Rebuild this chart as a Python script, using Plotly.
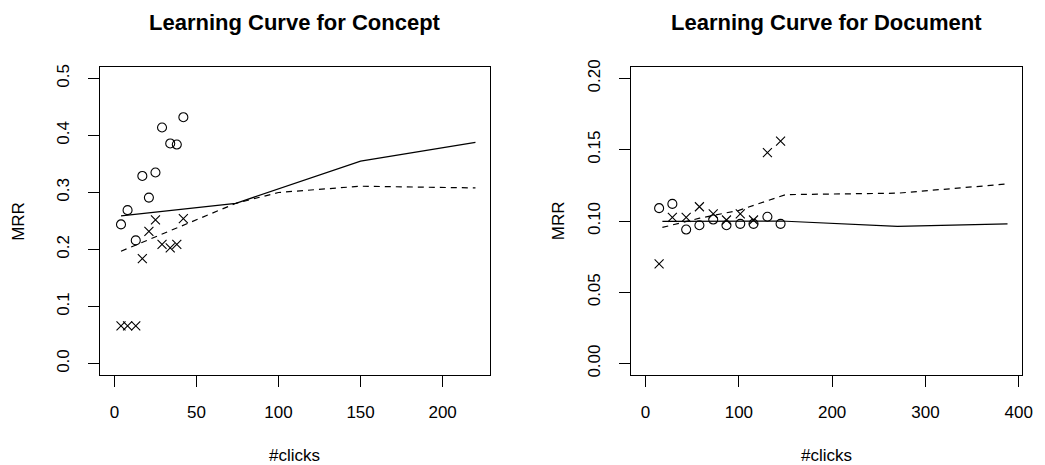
import plotly.graph_objects as go

# ---- data: Concept ----
concept_x = [4, 8, 13, 17, 21, 25, 29, 34, 38, 42]
concept_circle = [0.244, 0.269, 0.216, 0.329, 0.291, 0.335, 0.414, 0.386, 0.384, 0.432]
concept_cross = [0.066, 0.066, 0.066, 0.184, 0.232, 0.252, 0.209, 0.203, 0.209, 0.254]
concept_solid_x = [4, 74, 150, 220]
concept_solid_y = [0.259, 0.281, 0.355, 0.388]
concept_dash_x = [4, 74, 100, 150, 220]
concept_dash_y = [0.197, 0.281, 0.300, 0.311, 0.308]

# ---- data: Document ----
doc_x = [14.5, 28.7, 43.5, 57.7, 72.5, 86.7, 101.5, 115.7, 130.6, 144.7]
doc_circle = [0.109, 0.112, 0.094, 0.097, 0.101, 0.097, 0.098, 0.098, 0.103, 0.098]
doc_cross = [0.070, 0.1026, 0.1026, 0.110, 0.105, 0.1007, 0.105, 0.1007, 0.148, 0.156]
doc_solid_x = [18, 145, 270, 388]
doc_solid_y = [0.0998, 0.1000, 0.0963, 0.098]
doc_dash_x = [18, 58, 100, 150, 270, 388]
doc_dash_y = [0.0955, 0.102, 0.1075, 0.1185, 0.1195, 0.126]

concept_xticks = [0, 50, 100, 150, 200]
concept_yticks = [0.0, 0.1, 0.2, 0.3, 0.4, 0.5]
doc_xticks = [0, 100, 200, 300, 400]
doc_yticks = [0.00, 0.05, 0.10, 0.15, 0.20]

titles = ["Learning Curve for Concept", "Learning Curve for Document"]
xlabel = "#clicks"
ylabel = "MRR"

FONT = "Liberation Sans, Arial, Helvetica, sans-serif"
BLACK = "#000000"

fig = go.Figure()

def add_panel(xa, ya, x, yc, yx, sx, sy, dxs, dys):
    fig.add_trace(go.Scatter(x=sx, y=sy, mode="lines", xaxis=xa, yaxis=ya,
                             line=dict(color=BLACK, width=1.2), showlegend=False))
    fig.add_trace(go.Scatter(x=dxs, y=dys, mode="lines", xaxis=xa, yaxis=ya,
                             line=dict(color=BLACK, width=1.2, dash="6px,5px"), showlegend=False))
    fig.add_trace(go.Scatter(x=x, y=yc, mode="markers", xaxis=xa, yaxis=ya,
                             marker=dict(symbol="circle-open", size=9, color=BLACK,
                                         line=dict(width=1.1, color=BLACK)),
                             showlegend=False))
    fig.add_trace(go.Scatter(x=x, y=yx, mode="markers", xaxis=xa, yaxis=ya,
                             marker=dict(symbol="x-thin-open", size=9, color=BLACK,
                                         line=dict(width=1.1, color=BLACK)),
                             showlegend=False))

add_panel("x", "y", concept_x, concept_circle, concept_cross,
          concept_solid_x, concept_solid_y, concept_dash_x, concept_dash_y)
add_panel("x2", "y2", doc_x, doc_circle, doc_cross,
          doc_solid_x, doc_solid_y, doc_dash_x, doc_dash_y)

# page body adds an 8px offset; lay out in target-page pixels minus that offset
OFF = 8
W, H = 1045 - OFF, 465 - OFF
ML = 100 - OFF
MT = 67 - OFF
plot_right = 1031.7 - OFF
plot_bottom = 375 - OFF
MR = W - plot_right
MB = H - plot_bottom
PW = W - ML - MR
PH = H - MT - MB

def px2x(px):
    return (px - OFF - ML) / PW

def py2y(py):
    return (plot_bottom - (py - OFF)) / PH

axis_common = dict(showgrid=False, zeroline=False, showline=True, mirror=True,
                   linecolor=BLACK, linewidth=1, ticks="outside", ticklen=11,
                   tickwidth=1, tickcolor=BLACK,
                   tickfont=dict(family=FONT, size=17, color=BLACK))

fig.update_layout(
    width=W, height=H,
    margin=dict(l=ML, r=MR, t=MT, b=MB, pad=0),
    paper_bgcolor="white", plot_bgcolor="white",
    font=dict(family=FONT, color=BLACK),
    xaxis=dict(domain=[0, px2x(494)], range=[-8.8, 228.8], tickvals=concept_xticks,
               ticklabelstandoff=11, anchor="y", **axis_common),
    yaxis=dict(domain=[0, 1], range=[-0.02, 0.52], tickvals=concept_yticks,
               tickformat=".1f", tickangle=-90, ticklabelstandoff=12, anchor="x",
               **axis_common),
    xaxis2=dict(domain=[px2x(636.7), 1], range=[-15.52, 403.52], tickvals=doc_xticks,
                ticklabelstandoff=11, anchor="y2", **axis_common),
    yaxis2=dict(domain=[0, 1], range=[-0.008, 0.208], tickvals=doc_yticks,
                tickformat=".2f", tickangle=-90, ticklabelstandoff=12, anchor="x2",
                **axis_common),
)

annots = []
for cx, t in [((100 + 494) / 2, titles[0]), ((636.7 + 1031.7) / 2, titles[1])]:
    annots.append(dict(x=px2x(cx), y=py2y(22), xref="paper", yref="paper",
                       text="<b>%s</b>" % t, showarrow=False, xanchor="center",
                       yanchor="middle", font=dict(family=FONT, size=22, color=BLACK)))
    annots.append(dict(x=px2x(cx), y=py2y(455), xref="paper", yref="paper",
                       text=xlabel, showarrow=False, xanchor="center",
                       yanchor="middle", font=dict(family=FONT, size=17, color=BLACK)))
for lx in [17, 563]:
    annots.append(dict(x=px2x(lx), y=py2y(221), xref="paper", yref="paper",
                       text=ylabel, showarrow=False, xanchor="center", yanchor="middle",
                       textangle=-90, font=dict(family=FONT, size=17, color=BLACK)))
fig.update_layout(annotations=annots)

fig.write_html("out.html")
